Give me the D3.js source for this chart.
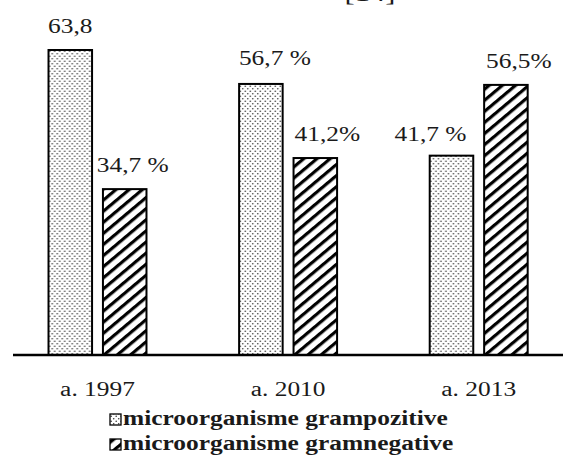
<!DOCTYPE html>
<html>
<head>
<meta charset="utf-8">
<script src="https://cdn.jsdelivr.net/npm/d3@7/dist/d3.min.js"></script>
<style>
  html, body { margin: 0; padding: 0; background: #fff; }
  svg { display: block; }
  text { font-family: "Liberation Serif", "Times New Roman", serif; fill: #1a1a1a; }
</style>
</head>
<body>
<script>
// Share of isolated microorganisms by Gram type, per year (%)
const years = ["a. 1997", "a. 2010", "a. 2013"];
const seriesNames = ["microorganisme grampozitive", "microorganisme gramnegative"];
const grampozitive = [63.8, 56.7, 41.7];
const gramnegative = [34.7, 41.2, 56.5];
// Labels exactly as printed above each bar
const labelsPoz = ["63,8", "56,7 %", "41,7 %"];
const labelsNeg = ["34,7 %", "41,2%", "56,5%"];

const W = 563, H = 464;
const SX = 1.27;          // horizontal stretch of the printed glyphs
const baseY = 355;

const svg = d3.select("body").append("svg")
  .attr("width", W).attr("height", H);

// --- fill patterns ---
const defs = svg.append("defs");
const dots = defs.append("pattern")
  .attr("id", "dots").attr("patternUnits", "userSpaceOnUse")
  .attr("width", 5).attr("height", 5);
dots.append("rect").attr("width", 5).attr("height", 5).attr("fill", "#fff");
dots.append("circle").attr("cx", 1.2).attr("cy", 1.2).attr("r", 0.8).attr("fill", "#3a3a3a");
dots.append("circle").attr("cx", 3.7).attr("cy", 3.7).attr("r", 0.8).attr("fill", "#3a3a3a");

const hatch = defs.append("pattern")
  .attr("id", "hatch").attr("patternUnits", "userSpaceOnUse")
  .attr("width", 8.5).attr("height", 8.5)
  .attr("patternTransform", "rotate(50)");
hatch.append("rect").attr("width", 8.5).attr("height", 8.5).attr("fill", "#fff");
hatch.append("rect").attr("x", 0).attr("y", 0).attr("width", 3.2).attr("height", 8.5).attr("fill", "#000");

const fills = ["url(#dots)", "url(#hatch)"];

// --- scales ---
const x0 = d3.scaleBand().domain(years).range([2.2, 574])
  .paddingInner(0.486).paddingOuter(0.243);
const x1 = d3.scaleBand().domain(seriesNames).range([0, x0.bandwidth()])
  .paddingInner(0.2).paddingOuter(0);
const y = d3.scaleLinear().domain([0, 63.8]).range([baseY, 50]);

const rows = years.map((yr, i) => ({
  year: yr,
  vals: [
    { s: seriesNames[0], v: grampozitive[i], label: labelsPoz[i], k: 0 },
    { s: seriesNames[1], v: gramnegative[i], label: labelsNeg[i], k: 1 }
  ]
}));

// small per-label nudges (dx, dy) relative to the bar centre / top
const nudge = {
  "63,8": [0, 0], "56,7 %": [14, -2], "41,7 %": [-21, 2],
  "34,7 %": [8, 0], "41,2%": [12, 0], "56,5%": [13, 0]
};

function stretchedText(g, x, yy, str, anchor) {
  return g.append("text")
    .attr("transform", `translate(${x},${yy}) scale(${SX},1)`)
    .attr("text-anchor", anchor || "middle")
    .text(str);
}

// heading reference running off the top edge (only the bracket feet remain)
stretchedText(svg, 370, 0.5, "[14]").attr("font-size", 24);

// --- bars ---
const groups = svg.selectAll("g.year").data(rows).join("g")
  .attr("class", "year")
  .attr("transform", d => `translate(${x0(d.year)},0)`);

groups.selectAll("rect.bar").data(d => d.vals).join("rect")
  .attr("class", "bar")
  .attr("x", d => x1(d.s))
  .attr("y", d => y(d.v))
  .attr("width", x1.bandwidth())
  .attr("height", d => baseY - y(d.v))
  .attr("fill", d => fills[d.k])
  .attr("stroke", "#000")
  .attr("stroke-width", 2);

groups.each(function(d) {
  const g = d3.select(this);
  d.vals.forEach(v => {
    const n = nudge[v.label] || [0, 0];
    stretchedText(g, x1(v.s) + x1.bandwidth() / 2 + n[0], y(v.v) - 17 + n[1], v.label)
      .attr("font-size", 20);
  });
});

// --- baseline axis ---
const axis = svg.append("g").attr("transform", `translate(0,${baseY})`)
  .call(d3.axisBottom(x0).tickSize(0).tickPadding(0));
axis.select(".domain").attr("d", `M13,0H563`).attr("stroke", "#000").attr("stroke-width", 2.6);
axis.selectAll(".tick text").remove();
years.forEach(yr => {
  stretchedText(svg, x0(yr) + x0.bandwidth() / 2, 396, yr).attr("font-size", 20);
});

// --- legend ---
const legendRows = [
  { name: seriesNames[0], fill: fills[0], y: 425 },
  { name: seriesNames[1], fill: fills[1], y: 450 }
];
legendRows.forEach(r => {
  svg.append("rect")
    .attr("x", 110).attr("y", r.y - 11).attr("width", 11).attr("height", 11)
    .attr("fill", r.fill).attr("stroke", "#000").attr("stroke-width", 1.3);
  stretchedText(svg, 123, r.y, r.name, "start")
    .attr("font-size", 20).attr("font-weight", "bold");
});
</script>
</body>
</html>
